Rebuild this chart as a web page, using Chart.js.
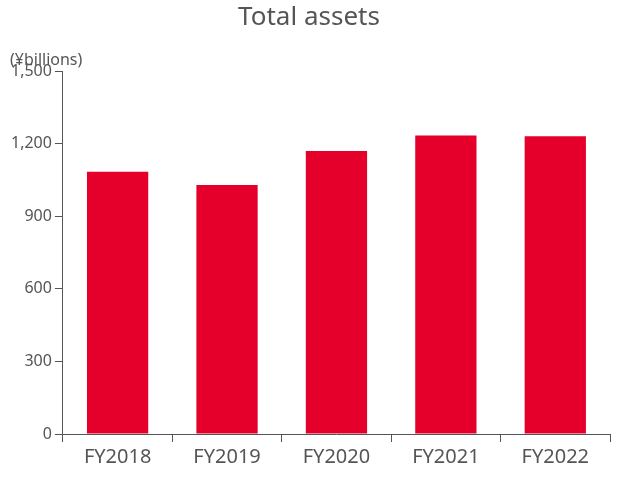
<!DOCTYPE html>
<html>
<head>
<meta charset="utf-8">
<script src="https://cdn.jsdelivr.net/npm/chart.js@4"></script>
<style>
  body { margin: 0; background: #fff; }
  #wrap { width: 640px; height: 480px; }
</style>
</head>
<body>
<div id="wrap"><canvas id="chart"></canvas></div>
<script>
const categories = ['FY2018', 'FY2019', 'FY2020', 'FY2021', 'FY2022'];
const assets = [1084, 1029, 1170, 1234, 1231];
const unitLabel = '(¥billions)';

// 단위 라벨을 축 위에 표시
const unitPlugin = {
    id: 'unit',
    afterDraw(chart) {
        const ctx = chart.ctx;
        ctx.save();
        ctx.fillStyle = '#555';
        ctx.font = '16px "Noto Sans"';
        ctx.textAlign = 'left';
        ctx.textBaseline = 'middle';
        ctx.fillText(unitLabel, 10, 60);
        ctx.restore();
    }
};

new Chart(document.getElementById('chart'), {
    type: 'bar',
    data: {
        labels: categories,
        datasets: [{
            data: assets,
            backgroundColor: '#e4002b',
            barPercentage: 0.56,
            categoryPercentage: 1
        }]
    },
    options: {
        responsive: true,
        maintainAspectRatio: false,
        animation: false,
        layout: { padding: { left: 8, right: 30, top: 0, bottom: 8 } },
        plugins: {
            legend: { display: false },
            tooltip: { enabled: false },
            title: {
                display: true,
                text: 'Total assets',
                color: '#555',
                font: { family: 'Noto Sans', size: 26, weight: 'normal' },
                padding: { top: 2, bottom: 38 }
            }
        },
        scales: {
            x: {
                grid: { offset: true, drawOnChartArea: false, color: '#555', tickLength: 8 },
                border: { color: '#555' },
                ticks: { color: '#555', font: { family: 'Noto Sans', size: 20 } }
            },
            y: {
                min: 0,
                max: 1500,
                ticks: { stepSize: 300, color: '#555', font: { family: 'Noto Sans', size: 16 } },
                grid: { drawOnChartArea: false, color: '#555', tickLength: 8 },
                border: { color: '#555' }
            }
        }
    },
    plugins: [unitPlugin]
});
</script>
</body>
</html>
